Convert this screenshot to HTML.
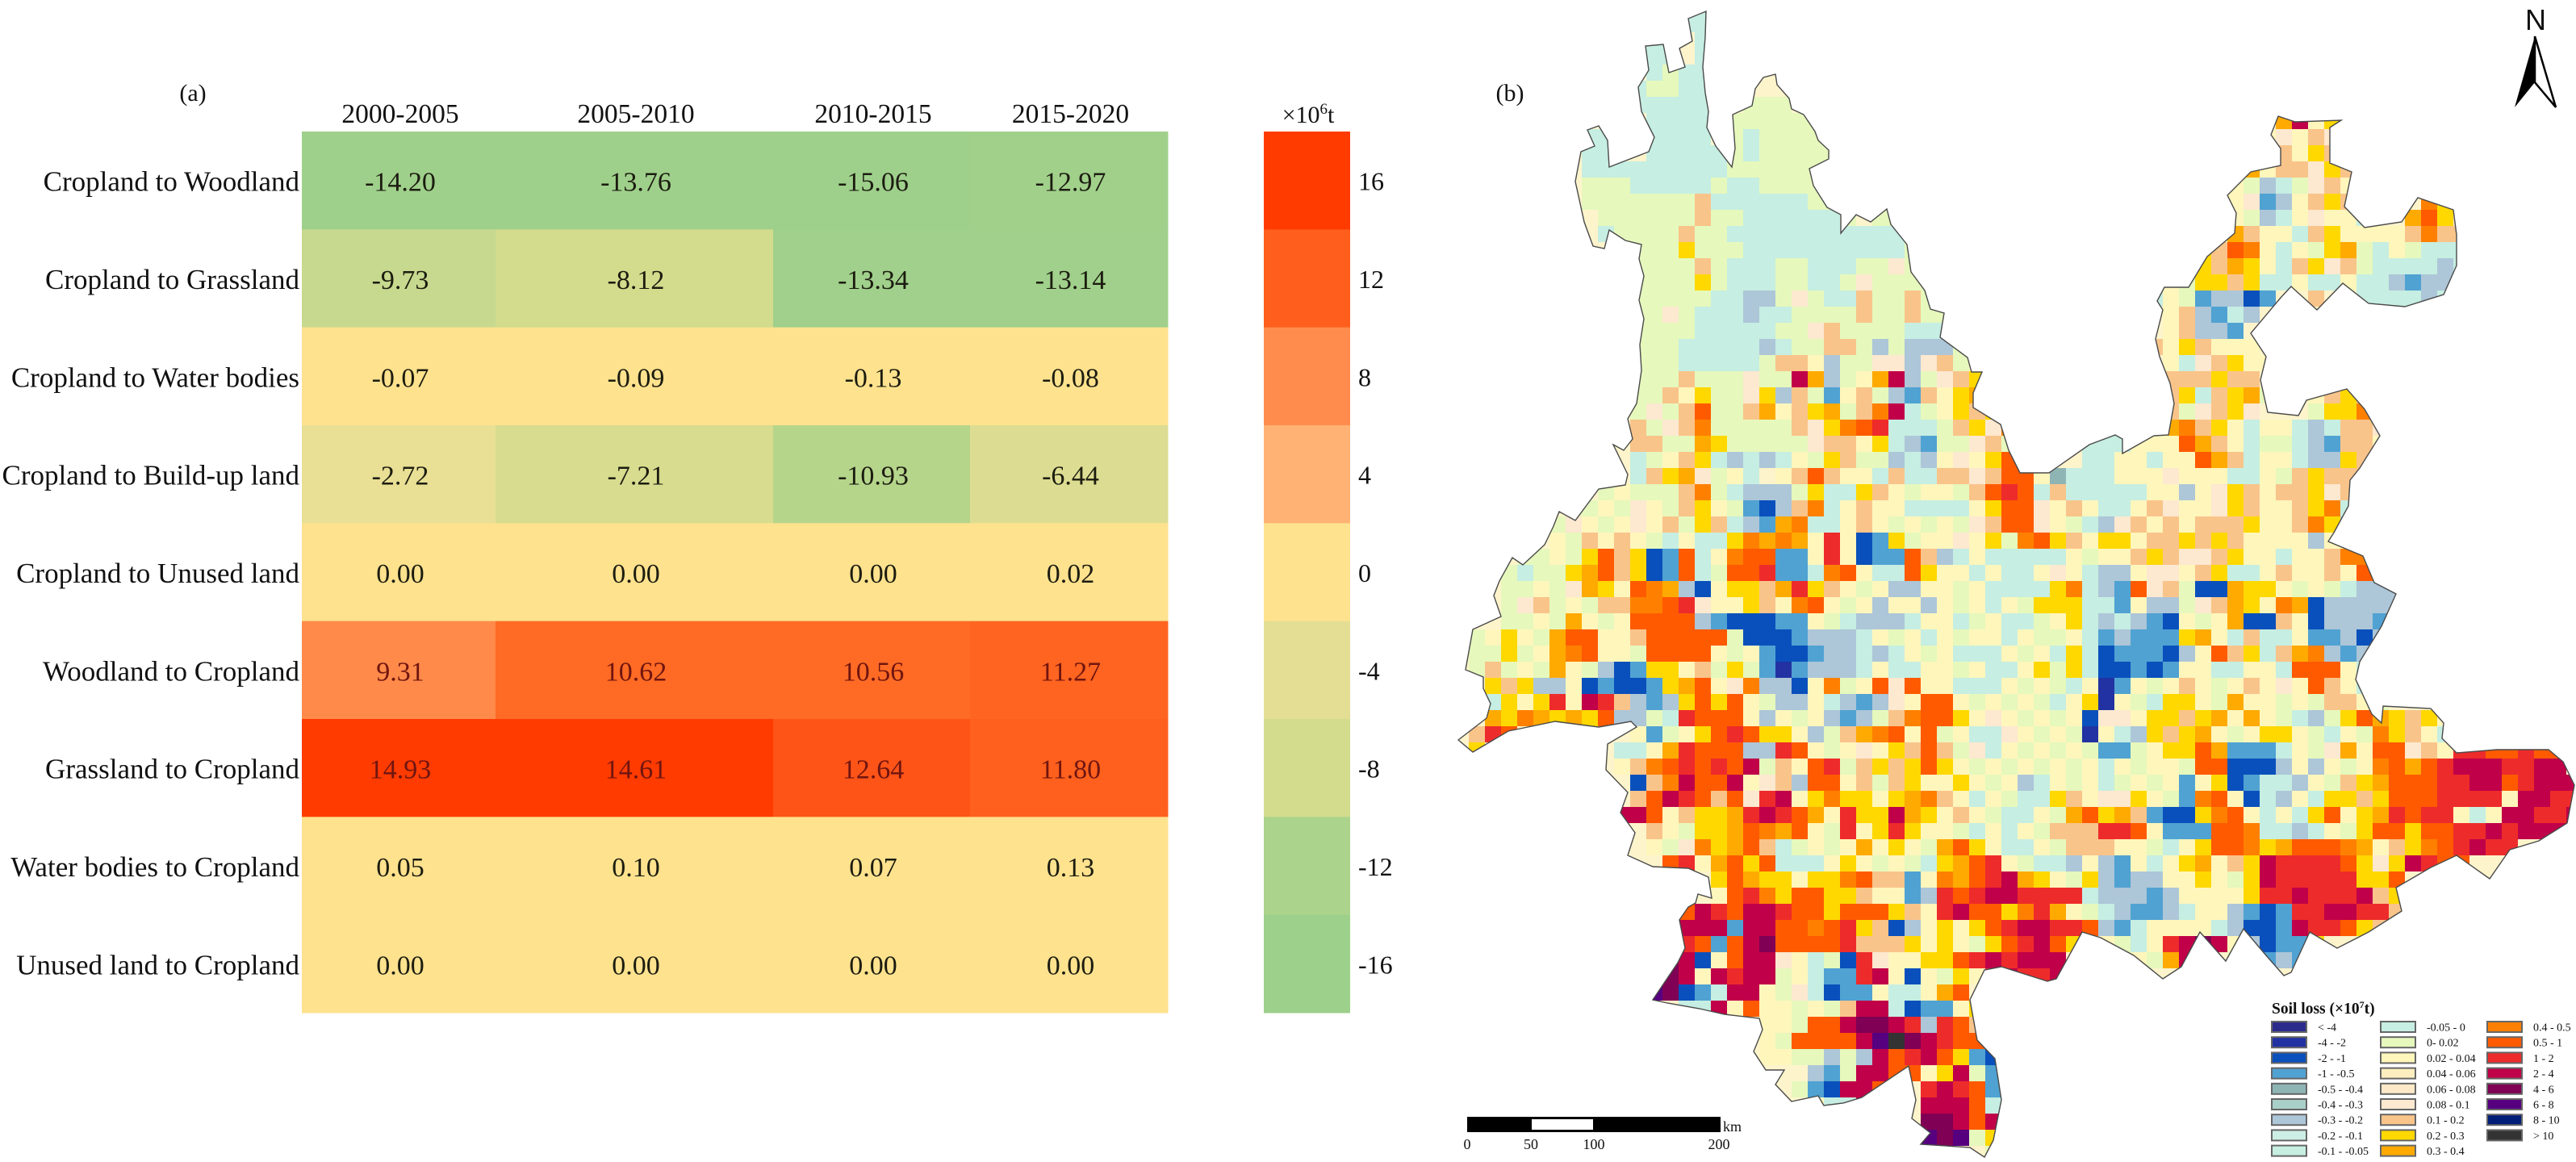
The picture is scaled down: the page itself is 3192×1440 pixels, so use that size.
<!DOCTYPE html>
<html>
<head>
<meta charset="utf-8">
<title>Soil loss change by land conversion</title>
<style>
html,body{margin:0;padding:0;background:#fff;}
svg{display:block;}
text{font-family:"Liberation Serif",serif;fill:#111;}
</style>
</head>
<body>
<svg id="figure" xmlns="http://www.w3.org/2000/svg" width="3192" height="1440" viewBox="0 0 3192 1440">
<rect x="0" y="0" width="3192" height="1440" fill="#fff"/>
<text x="239" y="125" font-size="30" text-anchor="middle">(a)</text>
<text x="1871" y="125" font-size="30" text-anchor="middle">(b)</text>
<g id="heatmap"></g>
<g id="colorbar"></g>
<text x="1621" y="152" font-size="30" text-anchor="middle">×10<tspan font-size="19" dy="-11">6</tspan><tspan dy="11">t</tspan></text>
<defs>
<clipPath id="province-clip">
<polygon points="2114,14 2113,46 2110,83 2113,115 2117,138 2115,158 2126,181 2146,207 2150,184 2147,142 2171,131 2175,110 2185,96 2200,92 2202,105 2217,122 2220,135 2235,142 2249,163 2253,174 2266,186 2266,197 2242,209 2247,230 2264,257 2281,266 2281,289 2300,266 2318,275 2338,259 2343,278 2363,303 2368,337 2385,360 2392,383 2409,388 2404,418 2438,443 2443,461 2456,461 2445,487 2445,505 2479,526 2489,558 2503,586 2539,586 2589,551 2621,539 2630,544 2630,562 2669,540 2687,539 2694,500 2689,475 2676,442 2671,420 2680,384 2673,373 2682,356 2712,356 2735,318 2769,289 2771,264 2760,242 2789,213 2826,205 2826,184 2814,167 2823,144 2844,151 2901,149 2887,158 2887,202 2914,213 2905,256 2930,282 2976,275 2996,245 3040,260 3044,291 3044,329 3028,365 2980,380 2935,376 2903,351 2871,384 2839,355 2826,369 2789,413 2808,442 2801,471 2810,511 2848,515 2858,496 2908,482 2930,507 2949,540 2924,580 2912,595 2910,627 2892,660 2885,671 2928,689 2942,722 2969,736 2951,776 2924,820 2919,842 2939,885 2951,896 2953,875 3012,878 3028,896 3026,915 3044,933 3094,929 3158,929 3176,944 3190,973 3181,1020 3146,1042 3110,1053 3085,1089 3044,1060 3012,1075 2969,1100 2976,1129 2935,1155 2896,1175 2862,1155 2839,1205 2830,1209 2808,1184 2780,1151 2758,1191 2726,1155 2703,1198 2680,1213 2644,1184 2603,1162 2580,1155 2548,1213 2537,1216 2480,1198 2459,1202 2441,1239 2450,1289 2472,1312 2480,1363 2470,1413 2459,1434 2441,1422 2380,1418 2392,1404 2369,1386 2374,1363 2365,1321 2307,1360 2284,1367 2260,1370 2253,1358 2220,1365 2200,1344 2211,1326 2188,1326 2173,1303 2184,1276 2180,1262 2137,1257 2106,1250 2066,1243 2048,1239 2079,1193 2088,1175 2081,1140 2092,1124 2101,1119 2104,1108 2121,1113 2117,1087 2092,1076 2048,1074 2017,1060 2026,1032 2008,1007 2017,982 1990,954 1992,922 2028,901 2021,894 1981,901 1927,894 1869,906 1825,932 1807,917 1842,890 1847,872 1838,853 1838,839 1816,830 1825,780 1860,764 1851,738 1858,720 1874,691 1887,700 1914,675 1925,652 1932,634 1952,645 1981,606 2014,601 2017,588 1999,551 2012,558 2023,544 2017,519 2028,500 2034,459 2032,427 2037,395 2031,372 2037,342 2031,321 2034,303 2014,298 1994,285 1988,308 1974,305 1963,275 1956,243 1952,225 1959,188 1976,181 1967,161 1981,156 1992,174 1994,207 2043,188 2050,170 2034,138 2030,108 2043,87 2039,57 2061,55 2068,90 2088,83 2081,60 2097,51 2092,23"/>
</clipPath>
</defs>
<g id="soil-map">
<polygon fill="#fdf4cc" points="2114,14 2113,46 2110,83 2113,115 2117,138 2115,158 2126,181 2146,207 2150,184 2147,142 2171,131 2175,110 2185,96 2200,92 2202,105 2217,122 2220,135 2235,142 2249,163 2253,174 2266,186 2266,197 2242,209 2247,230 2264,257 2281,266 2281,289 2300,266 2318,275 2338,259 2343,278 2363,303 2368,337 2385,360 2392,383 2409,388 2404,418 2438,443 2443,461 2456,461 2445,487 2445,505 2479,526 2489,558 2503,586 2539,586 2589,551 2621,539 2630,544 2630,562 2669,540 2687,539 2694,500 2689,475 2676,442 2671,420 2680,384 2673,373 2682,356 2712,356 2735,318 2769,289 2771,264 2760,242 2789,213 2826,205 2826,184 2814,167 2823,144 2844,151 2901,149 2887,158 2887,202 2914,213 2905,256 2930,282 2976,275 2996,245 3040,260 3044,291 3044,329 3028,365 2980,380 2935,376 2903,351 2871,384 2839,355 2826,369 2789,413 2808,442 2801,471 2810,511 2848,515 2858,496 2908,482 2930,507 2949,540 2924,580 2912,595 2910,627 2892,660 2885,671 2928,689 2942,722 2969,736 2951,776 2924,820 2919,842 2939,885 2951,896 2953,875 3012,878 3028,896 3026,915 3044,933 3094,929 3158,929 3176,944 3190,973 3181,1020 3146,1042 3110,1053 3085,1089 3044,1060 3012,1075 2969,1100 2976,1129 2935,1155 2896,1175 2862,1155 2839,1205 2830,1209 2808,1184 2780,1151 2758,1191 2726,1155 2703,1198 2680,1213 2644,1184 2603,1162 2580,1155 2548,1213 2537,1216 2480,1198 2459,1202 2441,1239 2450,1289 2472,1312 2480,1363 2470,1413 2459,1434 2441,1422 2380,1418 2392,1404 2369,1386 2374,1363 2365,1321 2307,1360 2284,1367 2260,1370 2253,1358 2220,1365 2200,1344 2211,1326 2188,1326 2173,1303 2184,1276 2180,1262 2137,1257 2106,1250 2066,1243 2048,1239 2079,1193 2088,1175 2081,1140 2092,1124 2101,1119 2104,1108 2121,1113 2117,1087 2092,1076 2048,1074 2017,1060 2026,1032 2008,1007 2017,982 1990,954 1992,922 2028,901 2021,894 1981,901 1927,894 1869,906 1825,932 1807,917 1842,890 1847,872 1838,853 1838,839 1816,830 1825,780 1860,764 1851,738 1858,720 1874,691 1887,700 1914,675 1925,652 1932,634 1952,645 1981,606 2014,601 2017,588 1999,551 2012,558 2023,544 2017,519 2028,500 2034,459 2032,427 2037,395 2031,372 2037,342 2031,321 2034,303 2014,298 1994,285 1988,308 1974,305 1963,275 1956,243 1952,225 1959,188 1976,181 1967,161 1981,156 1992,174 1994,207 2043,188 2050,170 2034,138 2030,108 2043,87 2039,57 2061,55 2068,90 2088,83 2081,60 2097,51 2092,23"/>
<g id="soil-cells" clip-path="url(#province-clip)" shape-rendering="crispEdges"></g>
<polygon fill="none" stroke="#4a4a4a" stroke-width="1.4" points="2114,14 2113,46 2110,83 2113,115 2117,138 2115,158 2126,181 2146,207 2150,184 2147,142 2171,131 2175,110 2185,96 2200,92 2202,105 2217,122 2220,135 2235,142 2249,163 2253,174 2266,186 2266,197 2242,209 2247,230 2264,257 2281,266 2281,289 2300,266 2318,275 2338,259 2343,278 2363,303 2368,337 2385,360 2392,383 2409,388 2404,418 2438,443 2443,461 2456,461 2445,487 2445,505 2479,526 2489,558 2503,586 2539,586 2589,551 2621,539 2630,544 2630,562 2669,540 2687,539 2694,500 2689,475 2676,442 2671,420 2680,384 2673,373 2682,356 2712,356 2735,318 2769,289 2771,264 2760,242 2789,213 2826,205 2826,184 2814,167 2823,144 2844,151 2901,149 2887,158 2887,202 2914,213 2905,256 2930,282 2976,275 2996,245 3040,260 3044,291 3044,329 3028,365 2980,380 2935,376 2903,351 2871,384 2839,355 2826,369 2789,413 2808,442 2801,471 2810,511 2848,515 2858,496 2908,482 2930,507 2949,540 2924,580 2912,595 2910,627 2892,660 2885,671 2928,689 2942,722 2969,736 2951,776 2924,820 2919,842 2939,885 2951,896 2953,875 3012,878 3028,896 3026,915 3044,933 3094,929 3158,929 3176,944 3190,973 3181,1020 3146,1042 3110,1053 3085,1089 3044,1060 3012,1075 2969,1100 2976,1129 2935,1155 2896,1175 2862,1155 2839,1205 2830,1209 2808,1184 2780,1151 2758,1191 2726,1155 2703,1198 2680,1213 2644,1184 2603,1162 2580,1155 2548,1213 2537,1216 2480,1198 2459,1202 2441,1239 2450,1289 2472,1312 2480,1363 2470,1413 2459,1434 2441,1422 2380,1418 2392,1404 2369,1386 2374,1363 2365,1321 2307,1360 2284,1367 2260,1370 2253,1358 2220,1365 2200,1344 2211,1326 2188,1326 2173,1303 2184,1276 2180,1262 2137,1257 2106,1250 2066,1243 2048,1239 2079,1193 2088,1175 2081,1140 2092,1124 2101,1119 2104,1108 2121,1113 2117,1087 2092,1076 2048,1074 2017,1060 2026,1032 2008,1007 2017,982 1990,954 1992,922 2028,901 2021,894 1981,901 1927,894 1869,906 1825,932 1807,917 1842,890 1847,872 1838,853 1838,839 1816,830 1825,780 1860,764 1851,738 1858,720 1874,691 1887,700 1914,675 1925,652 1932,634 1952,645 1981,606 2014,601 2017,588 1999,551 2012,558 2023,544 2017,519 2028,500 2034,459 2032,427 2037,395 2031,372 2037,342 2031,321 2034,303 2014,298 1994,285 1988,308 1974,305 1963,275 1956,243 1952,225 1959,188 1976,181 1967,161 1981,156 1992,174 1994,207 2043,188 2050,170 2034,138 2030,108 2043,87 2039,57 2061,55 2068,90 2088,83 2081,60 2097,51 2092,23"/>
</g>
<g id="scale-bar">
<rect x="1818" y="1384" width="314" height="19" fill="#000"/>
<rect x="1898" y="1387" width="76" height="13" fill="#fff"/>
<text x="2135" y="1402" font-size="18">km</text>
<text x="1818" y="1424" font-size="18" text-anchor="middle">0</text>
<text x="1897" y="1424" font-size="18" text-anchor="middle">50</text>
<text x="1975" y="1424" font-size="18" text-anchor="middle">100</text>
<text x="2130" y="1424" font-size="18" text-anchor="middle">200</text>
</g>
<g id="north-arrow">
<text x="3142" y="37" font-size="36" text-anchor="middle" style="font-family:'Liberation Sans',sans-serif">N</text>
<polygon points="3141,45 3116,133 3141,102" fill="#000"/>
<polygon points="3141,45 3141,102 3167,133" fill="#fff" stroke="#000" stroke-width="2.5" stroke-linejoin="miter"/>
</g>
<text x="2815" y="1256" font-size="19.5" font-weight="bold">Soil loss (×10<tspan font-size="12" dy="-7">7</tspan><tspan dy="7">t)</tspan></text>
<g id="soil-legend"></g>
</svg>
<script>
// ---- panel (a) heatmap data ----
const rowLabels = ["Cropland to Woodland","Cropland to Grassland","Cropland to Water bodies","Cropland to Build-up land","Cropland to Unused land","Woodland to Cropland","Grassland to Cropland","Water bodies to Cropland","Unused land to Cropland"];
const periodLabels = ["2000-2005","2005-2010","2010-2015","2015-2020"];
const period2000to2005 = [-14.20,-9.73,-0.07,-2.72,0.00,9.31,14.93,0.05,0.00];
const period2005to2010 = [-13.76,-8.12,-0.09,-7.21,0.00,10.62,14.61,0.10,0.00];
const period2010to2015 = [-15.06,-13.34,-0.13,-10.93,0.00,10.56,12.64,0.07,0.00];
const period2015to2020 = [-12.97,-13.14,-0.08,-6.44,0.02,11.27,11.80,0.13,0.00];
const periodWeights = [240,344,244,245];
const colorbarTicks = [16,12,8,4,0,-4,-8,-12,-16];

// ---- panel (b) soil-loss classes ----
const soilClassLetters = "abcdefghijklmnopqrstuvwxyz";
const soilClassLabels = ["< -4","-4 - -2","-2 - -1","-1 - -0.5","-0.5 - -0.4","-0.4 - -0.3","-0.3 - -0.2","-0.2 - -0.1","-0.1 - -0.05","-0.05 - 0","0- 0.02","0.02 - 0.04","0.04 - 0.06","0.06 - 0.08","0.08 - 0.1","0.1 - 0.2","0.2 - 0.3","0.3 - 0.4","0.4 - 0.5","0.5 - 1","1 - 2","2 - 4","4 - 6","6 - 8","8 - 10","> 10"];
const soilClassColors = ["#2b2b8c","#2232a2","#0a50bc","#50a2d2","#8fb4b4","#a9cfc9","#adc6d8","#cdeee4","#c6efe2","#c6eee2","#e6f8bc","#fff6bc","#fdeebf","#fde9c8","#fde8d0","#f9c48a","#ffd800","#ffaa00","#ff8000","#ff5a00","#ee2b2b","#c00048","#7f0055","#560080","#001e78","#333333"];

// Soil-loss raster, read by eye. Each space-separated group is ten columns.
const soilLossGrid = [
". ....jj",
". ....jj",
". ..jj.jj",
". ..jj.jj",
". ..jkjjj",
". .jkkjj",
". .jjjjj..kk k",
". ..jjjj.kkk kkk . . .rvlqs",
"........jj ..jjjj.kjk kkk . . lolpo",
"........jj ..jjjjjkjk kkkk . . .plqp",
"........jj jjjjjjjkkk kkkk . .........r lppoqpl",
"........kk kjjjjjkjjk kkk . ........lk gjkoplkp",
"........kk kkkkkpjjjj jjkk . ........lo dglpqpoj. sq",
".........k kkkkkpkkjj jjjjk.kkj . ........lk gjlollj..r tqoo",
".........j kkkkpkkjjj jjjjjjjj . ........rp lljpqllllp spp",
". .kkkqkkkjj jjjjjjjjk . ......qpts ljlkqrkjlk jjj",
". .kkkkpkjjj kkjjjkkok . .....pqprq ljpqopkjjj jgj",
". .kkkkqkjjj kkjjkokkkk . ....lkqqpq jjljjljjgd gg",
". .kkkkkjjgg kokjjpkkpk . ...jlkdggc d..p..jjjj gj",
". .kkokjjjgj jkkkkpkkpk k ....lpgdjg",
". .kkkkjjjjj kkopkkkkjj j ....lpggd",
". .kkkjjjjjg jkkppkgkgg gk ...plqplll",
". .kkkjjjjjk pplgkkoogo pk ....ljopql l",
". .kkkpkkkok kvrgklrvgk opqqs ....pppqpp",
". .kkplqkkoq gpkdlpkgdp lqrql ....pqjpqr k..lpqpl",
". .kokptkkpr lpqrkpsvjk lqpqrs ....pkopqo ...kqqsk",
". .pkopskkkk kpoqstujjj kpqosqrtt ....rspqlj lljgjppol",
". .ppkkrqkkk kkopplqjgd kkopkot..j jjllltrplj kkjgdppl",
". .jklpqjgjg jlkqpkkgjg lolqt....j jlljlltrpj lljggqpj",
". .jpqroklj lptplljpjj ppopttlejj jlllollljj lkpqppp",
".........k lkkkpskjgg gkqjjqplkl lkptutjpjj jjjllgloqp lppqopj",
".......kkl kolkpqlkdc gpsjlplljj jjlqttolpl jjlpolloqp llpqsjl",
"......kolk lolpkqpjgd rsjjlplklk lkopttolkj goplplpppq llpsqg",
"......lkpl plkjljjqsr srlulcdqkl lolqkstqpl qqlppqpqpl lllglls",
"....kklkqt pqcdtjlstt ddlulcddtp gjljjjjjlk llpqpoopql ljllpssr",
"...kjkkqrt pqcdtjkttu ddjstljjtq lljljjlolj ggloolpqjj lpllplttt",
"...kklkorq ltsrgclqqp ruqplklggl lkljjjjqsj gdtopkccrq qlklkjgggj",
"...kopklkp psstuollqp lstlklgllg lkljlkqqqj jdlggkoprq lsrcgggggj",
"...kklkrlk lttttgdccc ddlkjgggjl ljkljjklqj gjgdclklrc cplcgggd",
".klqlkrttl lptttttkcc cdgggjlklj lklljlkklj dgdddqrljp jjlddgcg",
".kkqklrstl lkttttlkld ccdggjgjlk ljjjlkljqj cdddcgltpq jprsgdgj",
".kpklkrlkg cdqqlpkqkd bdgggjljjl lkljjlqkqj ccdcdlljjl ljtttljj",
"..qpqgglcd ccdqrtlosg gclskltotl ljjjlklkjl bdlklplklp loltpljj",
"..jqlqulvu pgdgqtqtlk ggljgdgolt tlklklkjlq blkjqqlkrl lklkpplk",
"..rqsrqrqt ggkjutttlg lklgdgkpst tqlolklklc oolqqpqrlr lkjgkqtrqp ql",
".put...... .ldklqtutq qlgkprstlt kljjolklkb ljgqpqrlkl qqlkjlksqp lj",
".q jjlrutttgg utlklolqpt pkojlklklk ddklqqtrdd djlkorltto pluuttuttt",
". lpstututvk pltukpqpqt qlklklklkl jlkllkttcc cglglklstr tuvvvuuvv",
". .cpsvttvlo pgttlpkpql lqlklgjlkl jklkldlqcd jjglkpqrtt tuuvvtuvvv",
". .ptvutptou vlqsqqlqrs pljlkjjqpl ooqlkdstlc jgljqqpqtt tuuuulvvuu",
". vvtlpqqruv utrluqqvrq lplkjjlkrt qrpdccqstl jljqtlqrut uuljlvvuuv",
". ..plkqqrts rtlkulquql lkjljlkppp uutldddtts jjgjlkqttq ttuuvuvvv",
". ..lkosqrtp jklklrlqlk rtqljjlkpp pllkjlqtts qrtttsrlpq stuvuu",
". ...tulrtqt jjjlqlklkj qrtulkjjgl gdljlqrlpq vuuuutqoqv utt",
". ......qtrq qlqqstppdl srtuvrqlkq gdggllqlkq vuuuuuqqt",
". ......ltus qttqqplldg utuvvuuuuj gggdgllllq uuvuuuvpqq",
". ....tvutvv uttqtttqpl uvttqsurlk jgddgjllgd cduuvvuupq",
". ....vvvdvv ttstuqpcgl qlqtuvvuut gdjlllljgc cdvuutqp",
". ....utdtvw ttttupppql qlkqtuvtq lkjluvwvlg cddq..kl",
". ...wvcltvv oljkcuollq qtuvuvvv ..lkrvw.k. dgdv",
". ...wvlvuvv kljdduvlcl kqluvuuvl",
". ..xwcdjvvl kojcddljjl rt",
". ....jjvltl lklkpvvjcd dlqt",
". .........l lkttvwwvug utp",
". .........l kttttvxzwv utt",
". .........l lkkgkgvtuv tqdc",
". . ..gdkvvttl qvkd",
". . .kdcvvt..u vutd",
". . ..ljjvv..v vvtjd",
". . .........w wvtvkd",
". . .........x wxkqjv",
". . . ...kd"
];

const SVGNS = "http://www.w3.org/2000/svg";

// ---- heatmap ----
const heatTop = 163, heatLeft = 374, rowHeight = (1255 - 163) / rowLabels.length;
const periodSeries = [period2000to2005, period2005to2010, period2010to2015, period2015to2020];

function yRow(i){ return heatTop + i * rowHeight; }
function xCol(i){
  let x = heatLeft;
  for (let k = 0; k < i; k++) { x += periodWeights[k]; }
  return x;
}
function hexToRgb(h){ return [parseInt(h.slice(1,3),16),parseInt(h.slice(3,5),16),parseInt(h.slice(5,7),16)]; }
function valueColor(v){
  const stops = [[-16,"#9dd08b"],[-13.1,"#a0d08b"],[-10.9,"#b5d58b"],[-9.7,"#c7d98e"],[-8,"#d3dc8c"],[-6.4,"#dcdd92"],[-2.7,"#e9df95"],[-0.5,"#fee28e"],[1,"#fee28e"],[4,"#ffb274"],[8,"#ff8c4d"],[9.3,"#ff8a4a"],[10.6,"#ff6a24"],[12,"#ff5e1c"],[12.6,"#ff5518"],[14.6,"#ff3b00"],[16,"#ff3b00"]];
  if (v <= stops[0][0]) return stops[0][1];
  for (let i = 1; i < stops.length; i++) {
    if (v <= stops[i][0]) {
      const t = (v - stops[i-1][0]) / (stops[i][0] - stops[i-1][0]);
      const a = hexToRgb(stops[i-1][1]), b = hexToRgb(stops[i][1]);
      return "rgb(" + a.map((c,j) => Math.round(c + (b[j]-c)*t)).join(",") + ")";
    }
  }
  return stops[stops.length-1][1];
}

const heatmapGroup = document.getElementById("heatmap");
periodLabels.forEach((label, c) => {
  const head = document.createElementNS(SVGNS, "text");
  
  
  head.setAttribute("x", xCol(c) + periodWeights[c] / 2 + 2);
  head.setAttribute("y", 152);
  head.setAttribute("font-size", 33.5);
  head.setAttribute("text-anchor", "middle");
  head.textContent = label;
  heatmapGroup.appendChild(head);
});
rowLabels.forEach((label, r) => {
  const t = document.createElementNS(SVGNS, "text");
  
  
  t.setAttribute("x", 371);
  t.setAttribute("y", yRow(r) + rowHeight / 2 + 13);
  t.setAttribute("font-size", 35);
  t.setAttribute("text-anchor", "end");
  t.textContent = label;
  heatmapGroup.appendChild(t);
  periodSeries.forEach((series, c) => {
    const v = series[r];
    const cell = document.createElementNS(SVGNS, "rect");
    
    
    cell.setAttribute("x", xCol(c));
    cell.setAttribute("y", yRow(r));
    cell.setAttribute("width", periodWeights[c] + 0.5);
    cell.setAttribute("height", rowHeight + 0.5);
    cell.setAttribute("fill", valueColor(v));
    heatmapGroup.appendChild(cell);
  });
});
rowLabels.forEach((label, r) => {
  periodSeries.forEach((series, c) => {
    const v = series[r];
    const vt = document.createElementNS(SVGNS, "text");
    
    
    vt.setAttribute("x", xCol(c) + periodWeights[c] / 2 + 2);
    vt.setAttribute("y", yRow(r) + rowHeight / 2 + 13);
    vt.setAttribute("font-size", 34);
    vt.setAttribute("text-anchor", "middle");
    vt.style.fill = v > 5 ? "#701510" : "#1c1c10";
    vt.textContent = v.toFixed(2);
    heatmapGroup.appendChild(vt);
  });
});

// ---- colorbar ----
const colorbarGroup = document.getElementById("colorbar");
colorbarTicks.forEach((tick, i) => {
  const band = document.createElementNS(SVGNS, "rect");
  
  
  band.setAttribute("x", 1566);
  band.setAttribute("y", yRow(i));
  band.setAttribute("width", 107);
  band.setAttribute("height", rowHeight + 0.5);
  band.setAttribute("fill", valueColor(tick));
  colorbarGroup.appendChild(band);
  const lab = document.createElementNS(SVGNS, "text");
  
  
  lab.setAttribute("x", 1683);
  lab.setAttribute("y", yRow(i) + rowHeight / 2 + 12);
  lab.setAttribute("font-size", 32);
  lab.textContent = String(tick);
  colorbarGroup.appendChild(lab);
});

// ---- soil map raster ----
const gridLeft = 1800, gridTop = 0, gridCell = 20;
function xGrid(c){ return gridLeft + c * gridCell; }
function yGrid(r){ return gridTop + r * gridCell; }
const cellsGroup = document.getElementById("soil-cells");
soilLossGrid.forEach((row, r) => {
  row.split(" ").forEach((group, g) => {
    for (let j = 0; j < group.length; j++) {
      const idx = soilClassLetters.indexOf(group[j]);
      if (idx < 0) continue;
      const rect = document.createElementNS(SVGNS, "rect");
      
      
      rect.setAttribute("x", xGrid(g * 10 + j));
      rect.setAttribute("y", yGrid(r));
      rect.setAttribute("width", gridCell);
      rect.setAttribute("height", gridCell);
      rect.setAttribute("fill", soilClassColors[idx]);
      cellsGroup.appendChild(rect);
    }
  });
});

// ---- legend ----
const legendGroup = document.getElementById("soil-legend");
const legendSwatchX = [2814, 2949, 3081], legendLabelX = [2872, 3007, 3139];
soilClassLabels.forEach((label, i) => {
  const col = Math.floor(i / 9), row = i % 9;
  const y = 1265 + row * 19.2;
  const sw = document.createElementNS(SVGNS, "rect");
  
  
  sw.setAttribute("x", legendSwatchX[col] + 1);
  sw.setAttribute("y", y + 1);
  sw.setAttribute("width", 43);
  sw.setAttribute("height", 13);
  sw.setAttribute("fill", soilClassColors[i]);
  sw.setAttribute("stroke", "#666");
  sw.setAttribute("stroke-width", 2);
  legendGroup.appendChild(sw);
  const tx = document.createElementNS(SVGNS, "text");
  
  
  tx.setAttribute("x", legendLabelX[col]);
  tx.setAttribute("y", y + 12.5);
  tx.setAttribute("font-size", 14);
  tx.textContent = label;
  legendGroup.appendChild(tx);
});
</script>
</body>
</html>
